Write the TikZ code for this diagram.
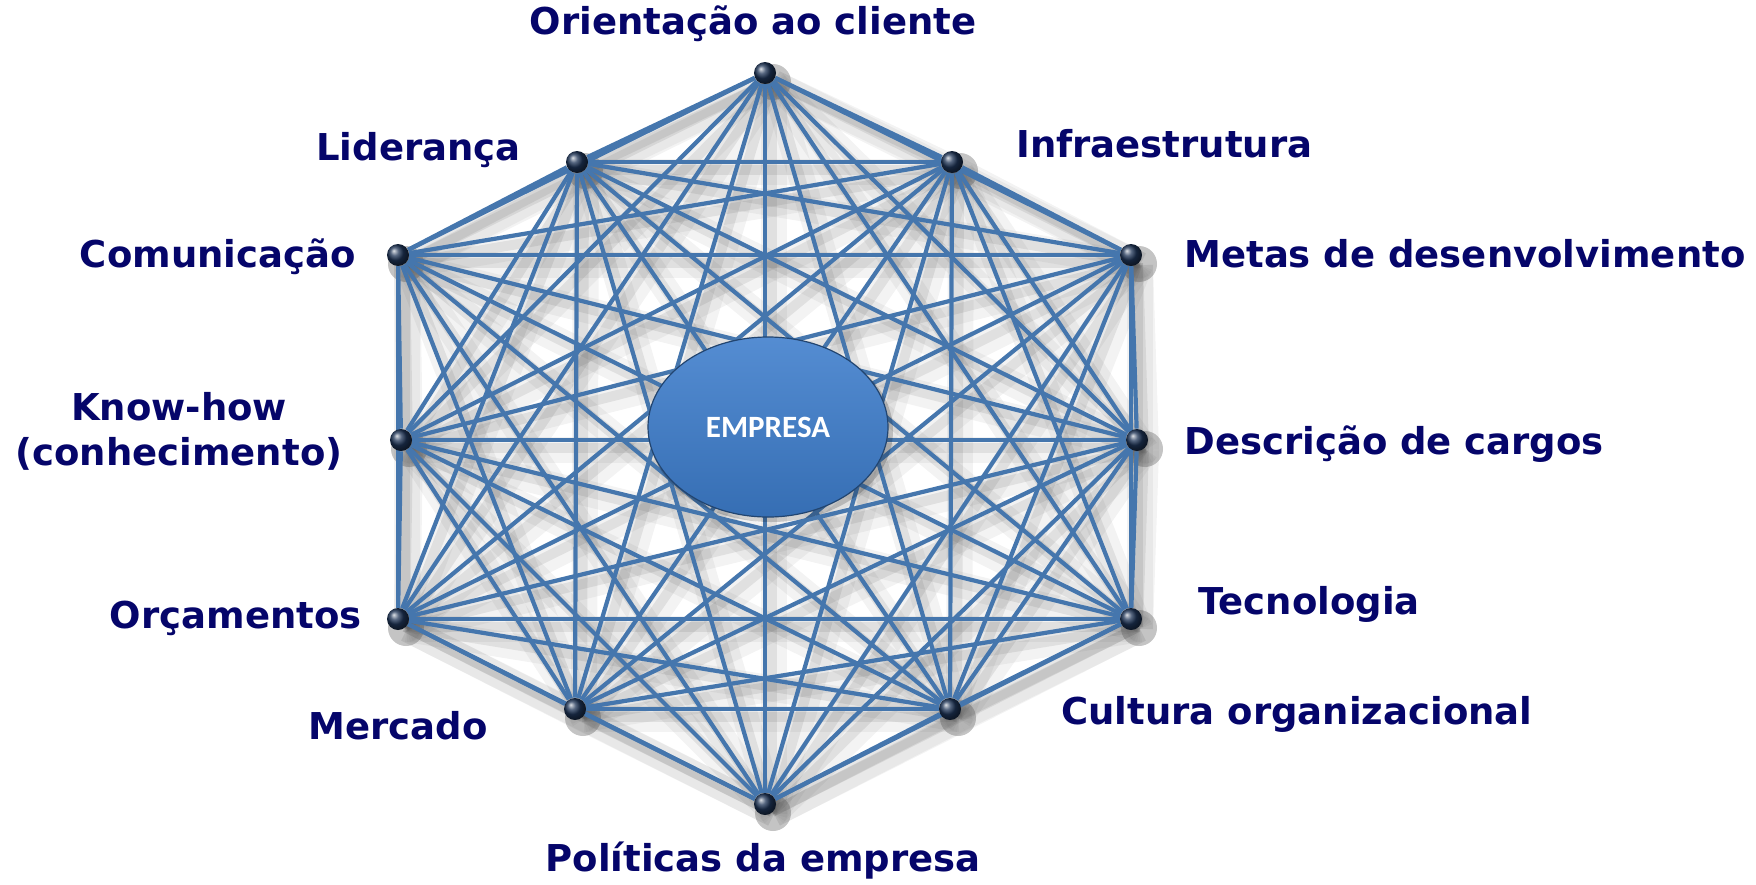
\documentclass[tikz,border=0pt]{standalone}
\usepackage{fontspec}
\setmainfont{DejaVu Sans}
\newfontfamily\calfont{Carlito}
\usetikzlibrary{shapes.geometric,backgrounds}
\definecolor{navy}{HTML}{05056A}
\definecolor{redeazul}{HTML}{4576AD}
\definecolor{sombra}{HTML}{555555}
\definecolor{bolacor}{HTML}{1E3456}
\definecolor{elipsecor}{HTML}{3D7DCC}
\begin{document}
\begin{tikzpicture}[x=0.5pt,y=-0.5pt,line cap=round,
		lbl/.style={font=\bfseries\fontsize{18.5}{22.5}\selectfont,text=navy,inner sep=0pt,text height=13.5pt,text depth=3.8pt},
		bola/.style={circle,inner sep=0pt,minimum size=11pt,shading=ball,ball color=bolacor},
		aresta/.style={redeazul,line width=2.1pt},
		aresta sombra/.style={sombra,line width=13pt,opacity=0.07},
		aresta sombra2/.style={sombra,line width=5pt,opacity=0.12}]
	\useasboundingbox (0,0) rectangle (1756,884);
	
	% pontos da rede
	\node[bola] (ori) at (765,73) {};
	\node[bola] (lid) at (577,162) {};
	\node[bola] (inf) at (952,162) {};
	\node[bola] (com) at (398,255) {};
	\node[bola] (met) at (1131,255) {};
	\node[bola] (kno) at (401,440) {};
	\node[bola] (des) at (1137,440) {};
	\node[bola] (orc) at (398,619) {};
	\node[bola] (tec) at (1131,619) {};
	\node[bola] (mer) at (575,709) {};
	\node[bola] (cul) at (950,709) {};
	\node[bola] (pol) at (765,804) {};
	
	\begin{pgfonlayer}{background}
		\foreach \a [count=\i] in {ori,lid,inf,com,met,kno,des,orc,tec,mer,cul,pol}{
			\fill[sombra,opacity=0.35] ([shift={(8,9)}]\a.center) circle (9pt);
			\foreach \b [count=\j] in {ori,lid,inf,com,met,kno,des,orc,tec,mer,cul,pol}{
				\ifnum\j>\i
					\draw[aresta sombra] ([shift={(9,10)}]\a.center) -- ([shift={(9,10)}]\b.center);
					\draw[aresta sombra2] ([shift={(7,8)}]\a.center) -- ([shift={(7,8)}]\b.center);
				\fi
			}
		}
		\foreach \a [count=\i] in {ori,lid,inf,com,met,kno,des,orc,tec,mer,cul,pol}{
			\foreach \b [count=\j] in {ori,lid,inf,com,met,kno,des,orc,tec,mer,cul,pol}{
				\ifnum\j>\i
					\draw[aresta] (\a) -- (\b);
				\fi
			}
		}
	\end{pgfonlayer}
	
	% centro
	\fill[black,opacity=0.18] (771,431) ellipse (122 and 91);
	\node[ellipse,minimum width=120pt,minimum height=90pt,inner sep=0pt,
		top color=elipsecor!88!white,bottom color=elipsecor!88!black,draw=elipsecor!55!black,line width=0.6pt,
		text=white,font=\calfont\bfseries\fontsize{15.5}{18}\selectfont] (emp) at (768,427) {EMPRESA};
	
	% rotulos
	\node[lbl] (t-ori) at (753,25) {Orientação ao cliente};
	\node[lbl,anchor=east] (t-lid) at (521,151) {Liderança};
	\node[lbl,anchor=west] (t-inf) at (1016,148) {Infraestrutura};
	\node[lbl,anchor=east] (t-com) at (356,258) {Comunicação};
	\node[lbl,anchor=west] (t-met) at (1184,258) {Metas de desenvolvimento};
	\node[lbl,align=center,text height=,text depth=] (t-kno) at (179,431) {Know-how\\(conhecimento)};
	\node[lbl,anchor=west] (t-des) at (1184,445) {Descrição de cargos};
	\node[lbl,anchor=east] (t-orc) at (362,619) {Orçamentos};
	\node[lbl,anchor=west] (t-tec) at (1198,605) {Tecnologia};
	\node[lbl,anchor=east] (t-mer) at (488,730) {Mercado};
	\node[lbl,anchor=west] (t-cul) at (1061,715) {Cultura organizacional};
	\node[lbl] (t-pol) at (763,862) {Políticas da empresa};
\end{tikzpicture}
\end{document}
